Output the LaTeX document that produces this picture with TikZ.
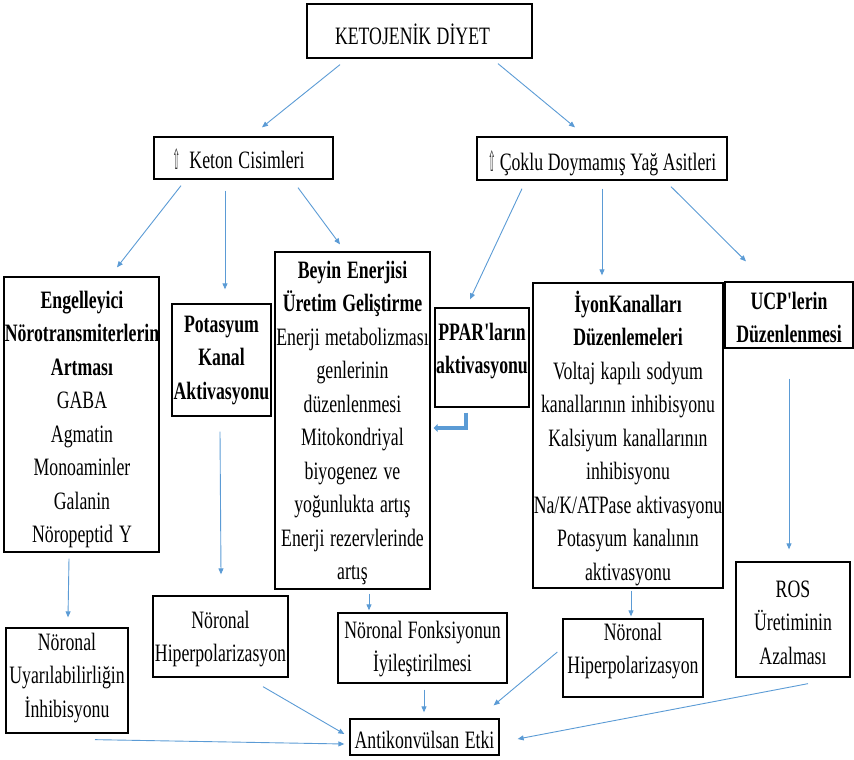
\documentclass[tikz,border=0pt]{standalone}
\usepackage{fontspec}
\usepackage{graphicx}
\setmainfont{Liberation Serif}[FakeStretch=0.71,Ligatures=TeXOff]
\newfontfamily\symf{DejaVu Sans}
\usetikzlibrary{arrows.meta,calc}
\definecolor{arrowblue}{RGB}{91,155,213}
\newcommand\fs{\fontsize{25}{33.5}\selectfont}
\newcommand\uparr{{\color{black!80}\symf\raisebox{-1pt}{\resizebox{8pt}{21pt}{⇧}}}}
\tikzset{
  box/.style={draw=black, line width=1.3pt, rectangle, inner sep=0pt},
  txt/.style={anchor=base, align=center, text width=260pt, inner sep=0pt, font=\fs,
    execute at begin node={\spaceskip=4.4pt plus 1pt minus 1pt\xspaceskip=4.4pt\relax}},
  arr/.style={draw=arrowblue, line width=0.9pt, -{Triangle[length=6pt,width=5pt]}},
  hook/.style={draw=arrowblue, line width=3.2pt, -{Triangle[length=4pt,width=8pt]}},
}
\begin{document}
\begin{tikzpicture}[x=1pt,y=-1pt]
\useasboundingbox (0,0) rectangle (854,760);
% boxes
\node[box, minimum width=225pt, minimum height=54pt]  (kd)    at (419.5,31)   {};
\node[box, minimum width=179pt, minimum height=42pt]  (keton) at (243.5,158)  {};
\node[box, minimum width=250pt, minimum height=43pt]  (coklu) at (602,158.5)  {};
\node[box, minimum width=155pt, minimum height=275pt] (engel) at (81.5,414.5)  {};
\node[box, minimum width=99pt,  minimum height=112pt] (pot)   at (221.5,360)  {};
\node[box, minimum width=155pt, minimum height=337pt] (beyin) at (352.5,420.5) {};
\node[box, minimum width=94pt,  minimum height=99pt]  (ppar)  at (482,357.5)  {};
\node[box, minimum width=190pt, minimum height=305pt] (iyon)  at (628,435.5)  {};
\node[box, minimum width=128pt, minimum height=66pt]  (ucp)   at (789,315)    {};
\node[box, minimum width=114pt, minimum height=115pt] (ros)   at (793,619.5)  {};
\node[box, minimum width=122pt, minimum height=105pt] (uyar)  at (67,680.5)   {};
\node[box, minimum width=135pt, minimum height=81pt]  (hipl)  at (220.5,636.5) {};
\node[box, minimum width=169pt, minimum height=70pt]  (fonk)  at (422.5,648)  {};
\node[box, minimum width=140pt, minimum height=78pt]  (hipr)  at (633,658)    {};
\node[box, minimum width=149pt, minimum height=36pt]  (anti)  at (424.5,737)  {};
% texts
\node[txt] (tkd) at (412.5,45) {KETOJENİK DİYET};
\node[txt] (tketon) at (238.5,168) {\uparr\hspace{9pt}Keton Cisimleri};
\node[txt] (tcoklu) at (602,170) {\uparr\hspace{4pt}Çoklu Doymamış Yağ Asitleri};
\node[txt] (tengel) at (82,308) {\textbf{Engelleyici}\\\textbf{Nörotransmiterlerin}\\\textbf{Artması}\\GABA\\Agmatin\\Monoaminler\\Galanin\\Nöropeptid Y};
\node[txt] (tpot) at (221.5,332) {\textbf{Potasyum}\\\textbf{Kanal}\\\textbf{Aktivasyonu}};
\node[txt] (tbeyin) at (352.5,278) {\textbf{Beyin Enerjisi}\\\textbf{Üretim Geliştirme}\\Enerji metabolizması\\genlerinin\\düzenlenmesi\\Mitokondriyal\\biyogenez ve\\yoğunlukta artış\\Enerji rezervlerinde\\artış};
\node[txt] (tppar) at (482,340) {\textbf{PPAR'ların}\\\textbf{aktivasyonu}};
\node[txt] (tiyon) at (628,312) {\textbf{İyonKanalları}\\\textbf{Düzenlemeleri}\\Voltaj kapılı sodyum\\kanallarının inhibisyonu\\Kalsiyum kanallarının\\inhibisyonu\\Na/K/ATPase aktivasyonu\\Potasyum kanalının\\aktivasyonu};
\node[txt] (tucp) at (789,309) {\textbf{UCP'lerin}\\\textbf{Düzenlenmesi}};
\node[txt] (tros) at (793,597) {ROS\\Üretiminin\\Azalması};
\node[txt] (tuyar) at (67,650) {Nöronal\\Uyarılabilirliğin\\İnhibisyonu};
\node[txt] (thipl) at (220.5,628) {Nöronal\\Hiperpolarizasyon};
\node[txt] (tfonk) at (422.5,638) {Nöronal Fonksiyonun\\İyileştirilmesi};
\node[txt] (thipr) at (633,640) {Nöronal\\Hiperpolarizasyon};
\node[txt] (tanti) at (424.5,748) {Antikonvülsan Etki};
% connectors
\draw[arr] ($(kd.south)+(-79.5,6)$) -- ($(keton.north)+(18.5,-9)$);
\draw[arr] ($(kd.south)+(78.5,5)$) -- ($(coklu.north)+(-27,-9)$);
\draw[arr] ($(keton.south)+(-62.5,6)$) -- ($(engel.north)+(35.5,-9)$);
\draw[arr] ($(keton.south)+(-18.5,11)$) -- ($(pot.north)+(3.5,-14)$);
\draw[arr] ($(keton.south)+(54.5,8)$) -- ($(beyin.north)+(-12.5,-7)$);
\draw[arr] ($(coklu.south)+(-80,8)$) -- ($(ppar.north)+(-12,-8)$);
\draw[arr] ($(coklu.south)+(0,8)$) -- ($(iyon.north)+(-26,-7)$);
\draw[arr] ($(coklu.south)+(69,6)$) -- ($(ucp.north)+(-43,-20)$);
\draw[arr] ($(engel.south)+(-12.5,6)$) -- ($(uyar.north)+(1,-10)$);
\draw[arr] ($(pot.south)+(-1.5,15)$) -- ($(hipl.north)+(0.5,-21)$);
\draw[arr] ($(beyin.south)+(16.5,4)$) -- ($(fonk.north)+(-53.5,-2)$);
\draw[arr] ($(iyon.south)+(3,2)$) -- ($(hipr.north)+(-2,-2)$);
\draw[arr] ($(ucp.south)+(0,30)$) -- ($(ros.north)+(-4,-12)$);
\draw[hook] ($(ppar.south)+(-16,5)$) |- ($(beyin.east)+(3,7.5)$);
\draw[arr] ($(uyar.south)+(28,6)$) -- ($(anti.west)+(-5,7)$);
\draw[arr] ($(hipl.south)+(42.5,9)$) -- ($(anti.west)+(-5,-3)$);
\draw[arr] ($(fonk.south)+(1.5,6)$) -- ($(anti.north)+(-0.5,-6)$);
\draw[arr] ($(hipr.west)+(-5,-6)$) -- ($(anti.north east)+(-6,-13)$);
\draw[arr] ($(ros.south)+(15,6)$) -- ($(anti.east)+(18,2)$);
\end{tikzpicture}
\end{document}
